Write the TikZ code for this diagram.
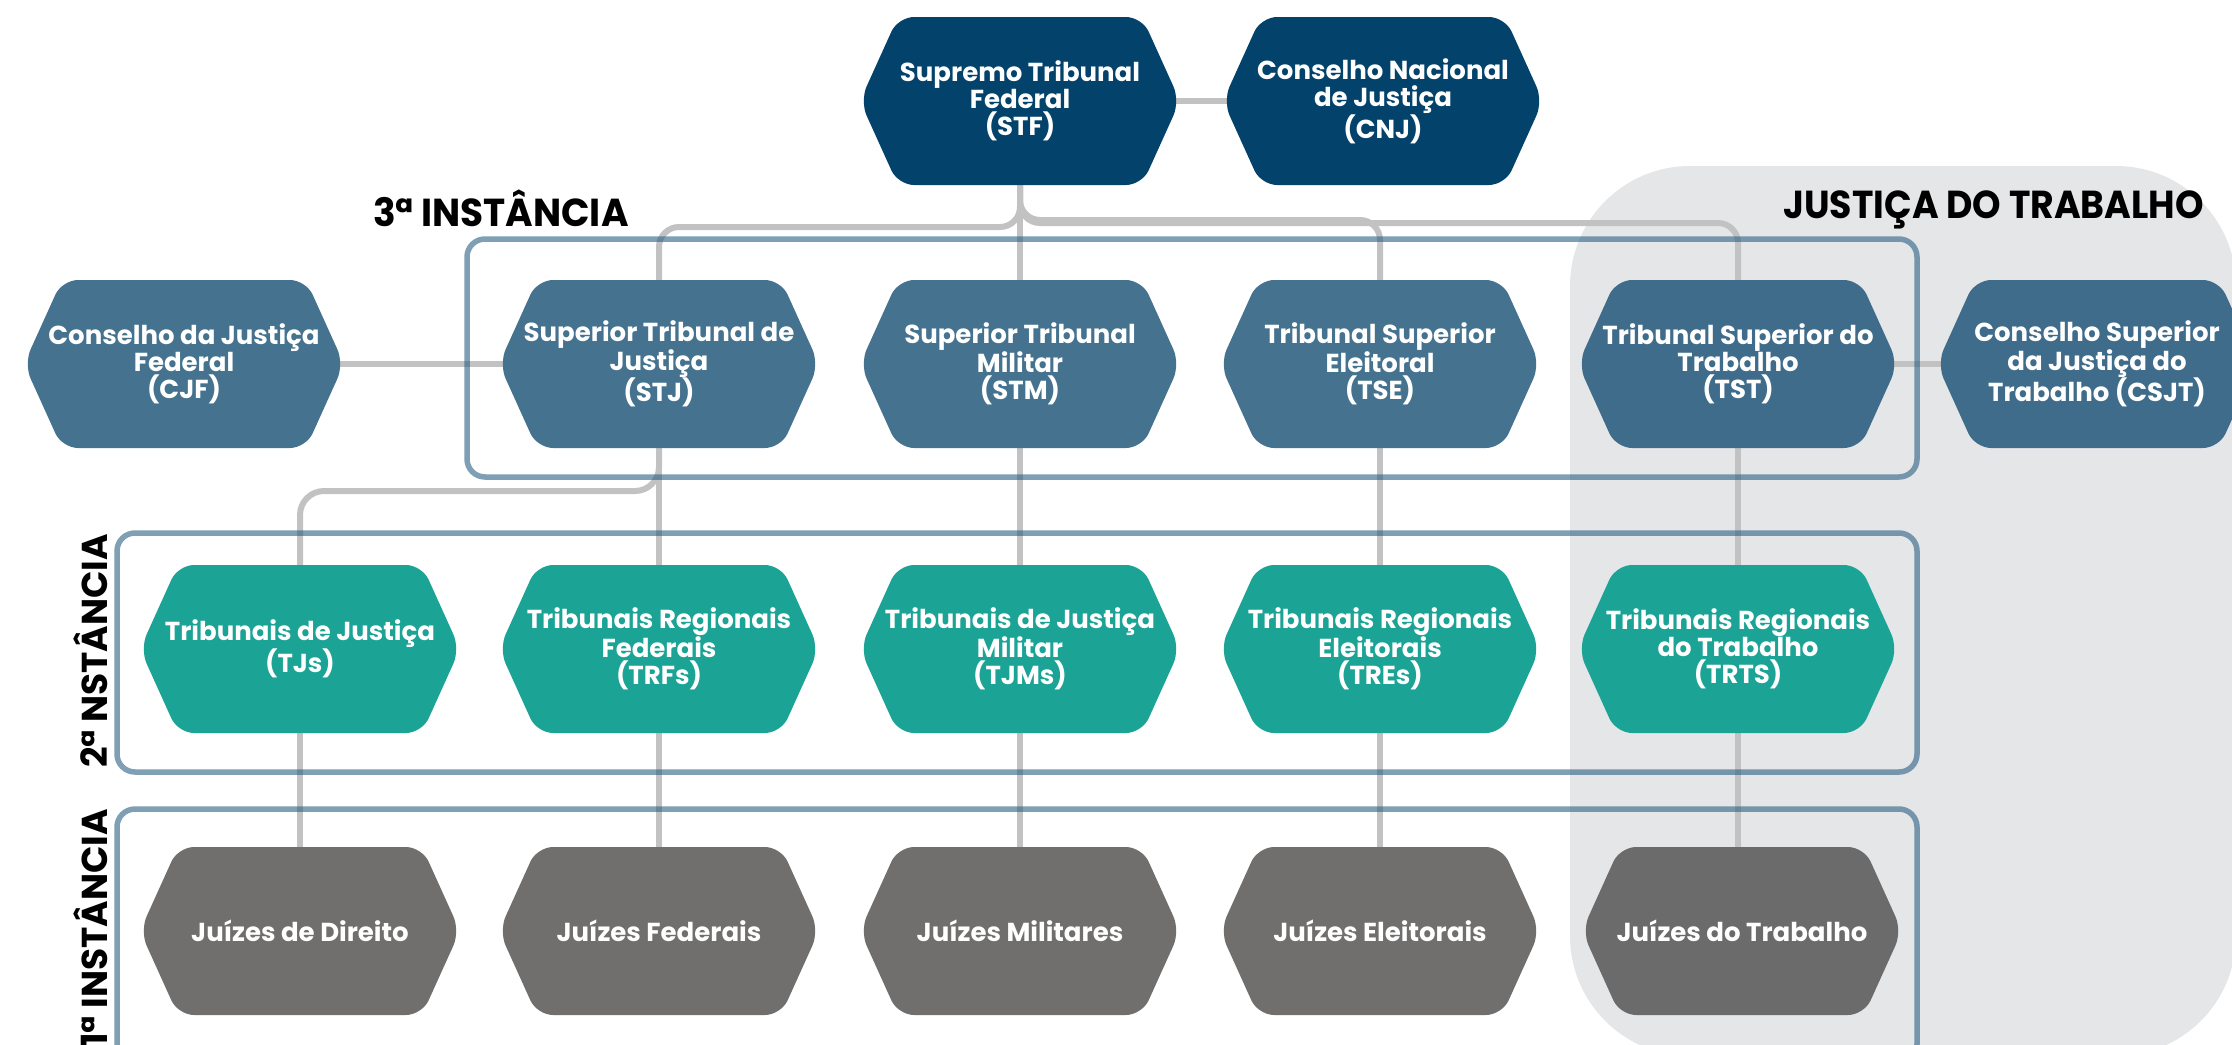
\documentclass[tikz,border=0pt]{standalone}
\usepackage{fontspec}
\setmainfont{Poppins}
\usepackage{graphicx}
\definecolor{cTop}{HTML}{03426B}
\definecolor{cSup}{HTML}{45738F}
\definecolor{cSupD}{HTML}{3F6C8A}
\definecolor{cReg}{HTML}{1BA396}
\definecolor{cJuiz}{HTML}{706F6E}
\definecolor{cJuizD}{HTML}{6C6B6B}
\definecolor{cFrame}{RGB}{42,95,132}
\definecolor{cConn}{HTML}{C2C2C2}
\definecolor{cBg}{HTML}{E5E6E8}
\pgfdeclarelayer{bglayer}
\pgfdeclarelayer{connlayer}
\pgfsetlayers{bglayer,connlayer,main}
\newcommand{\hexnode}[5]{%
  \fill[#4, rounded corners=16pt] (#2-160,#3) -- (#2-122,#3-84) -- (#2+122,#3-84) -- (#2+160,#3) -- (#2+122,#3+84) -- (#2-122,#3+84) -- cycle;
  \node[txt] (#1) at (#2,#3) {#5};
}
\begin{document}
\begin{tikzpicture}[x=1pt,y=-1pt,
  txt/.style={text=white, font=\bfseries\fontsize{26}{27}\selectfont, align=center, minimum width=320pt, minimum height=168pt, inner sep=0pt},
  conn/.style={draw=cConn, line width=6pt},
  frame/.style={draw=cFrame, draw opacity=0.6, line width=5.5pt, rounded corners=18pt},
  head/.style={font=\bfseries\fontsize{39}{39}\selectfont, inner sep=0pt, text=black},
  vlab/.style={font=\bfseries\fontsize{36}{36}\selectfont, inner sep=0pt, text=black}]
\useasboundingbox (0,0) rectangle (2232,1044);
\clip (0,0) rectangle (2232,1044);
\begin{pgfonlayer}{bglayer}
\fill[cBg, rounded corners=120pt] (1570,166) rectangle (2236,1056);
\end{pgfonlayer}
% row 1
\hexnode{STF}{1020}{101}{cTop}{Supremo Tribunal\\Federal\\(STF)}
\hexnode{CNJ}{1383}{101}{cTop}{Conselho Nacional\\de Justiça\\(CNJ)}
% row 2
\hexnode{CJF}{184}{364}{cSup}{Conselho da Justiça\\Federal\\(CJF)}
\hexnode{STJ}{659}{364}{cSup}{Superior Tribunal de\\Justiça\\(STJ)}
\hexnode{STM}{1020}{364}{cSup}{Superior Tribunal\\Militar\\(STM)}
\hexnode{TSE}{1380}{364}{cSup}{Tribunal Superior\\Eleitoral\\(TSE)}
\hexnode{TST}{1738}{364}{cSupD}{Tribunal Superior do\\Trabalho\\(TST)}
\hexnode{CSJT}{2097}{364}{cSupD}{Conselho Superior\\da Justiça do\\Trabalho (CSJT)}
% row 3
\hexnode{TJs}{300}{649}{cReg}{Tribunais de Justiça\\(TJs)}
\hexnode{TRFs}{659}{649}{cReg}{Tribunais Regionais\\Federais\\(TRFs)}
\hexnode{TJMs}{1020}{649}{cReg}{Tribunais de Justiça\\Militar\\(TJMs)}
\hexnode{TREs}{1380}{649}{cReg}{Tribunais Regionais\\Eleitorais\\(TREs)}
\hexnode{TRTS}{1738}{649}{cReg}{Tribunais Regionais\\do Trabalho\\(TRTS)}
% row 4
\hexnode{JD}{300}{931}{cJuiz}{Juízes de Direito}
\hexnode{JF}{659}{931}{cJuiz}{Juízes Federais}
\hexnode{JM}{1020}{931}{cJuiz}{Juízes Militares}
\hexnode{JE}{1380}{931}{cJuiz}{Juízes Eleitorais}
\hexnode{JT}{1742}{931}{cJuizD}{Juízes do Trabalho}
% connectors
\coordinate (jl) at (0,227);
\coordinate (jr1) at (0,220);
\coordinate (jr2) at (0,223);
\coordinate (jb) at (0,491);
\begin{pgfonlayer}{connlayer}
\draw[conn, shorten <=-5pt, shorten >=-5pt] (STF.east) -- (CNJ.west);
\draw[conn, shorten <=-5pt, shorten >=-5pt] (CJF.east) -- (STJ.west);
\draw[conn, shorten <=-5pt, shorten >=-5pt] (TST.east) -- (CSJT.west);
\draw[conn] (STF.south) -- (STM.north);
\draw[conn, rounded corners=20pt] (STF.south) |- (STJ.north |- jl) -- (STJ.north);
\draw[conn, rounded corners=20pt] (STF.south) |- (TSE.north |- jr1) -- (TSE.north);
\draw[conn, rounded corners=20pt] (STF.south) |- (TST.north |- jr2) -- (TST.north);
\draw[conn] (STJ.south) -- (TRFs.north);
\draw[conn, rounded corners=24pt] (STJ.south) |- (TJs.north |- jb) -- (TJs.north);
\draw[conn] (STM.south) -- (TJMs.north);
\draw[conn] (TSE.south) -- (TREs.north);
\draw[conn] (TST.south) -- (TRTS.north);
\draw[conn] (TJs.south) -- (JD.north);
\draw[conn] (TRFs.south) -- (JF.north);
\draw[conn] (TJMs.south) -- (JM.north);
\draw[conn] (TREs.south) -- (JE.north);
\draw[conn] (TRTS.south) -- (TRTS.south |- JT.north);
% frames
\draw[frame] (467,239) rectangle (1917,477);
\draw[frame] (117,533) rectangle (1917,772);
\draw[frame] (117,809) rectangle (1917,1062);
\end{pgfonlayer}
% labels
\node[head, anchor=base west] (h3) at (373,226) {\scalebox{0.96}[1]{3ª INSTÂNCIA}};
\node[head, anchor=base east] (hjt) at (2204,218) {\scalebox{0.93}[1]{JUSTIÇA DO TRABALHO}};
\node[vlab, rotate=90, anchor=east] (v2) at (91,534) {2ª NSTÂNCIA};
\node[vlab, rotate=90, anchor=east] (v1) at (91,809) {1ª INSTÂNCIA};
\end{tikzpicture}
\end{document}
